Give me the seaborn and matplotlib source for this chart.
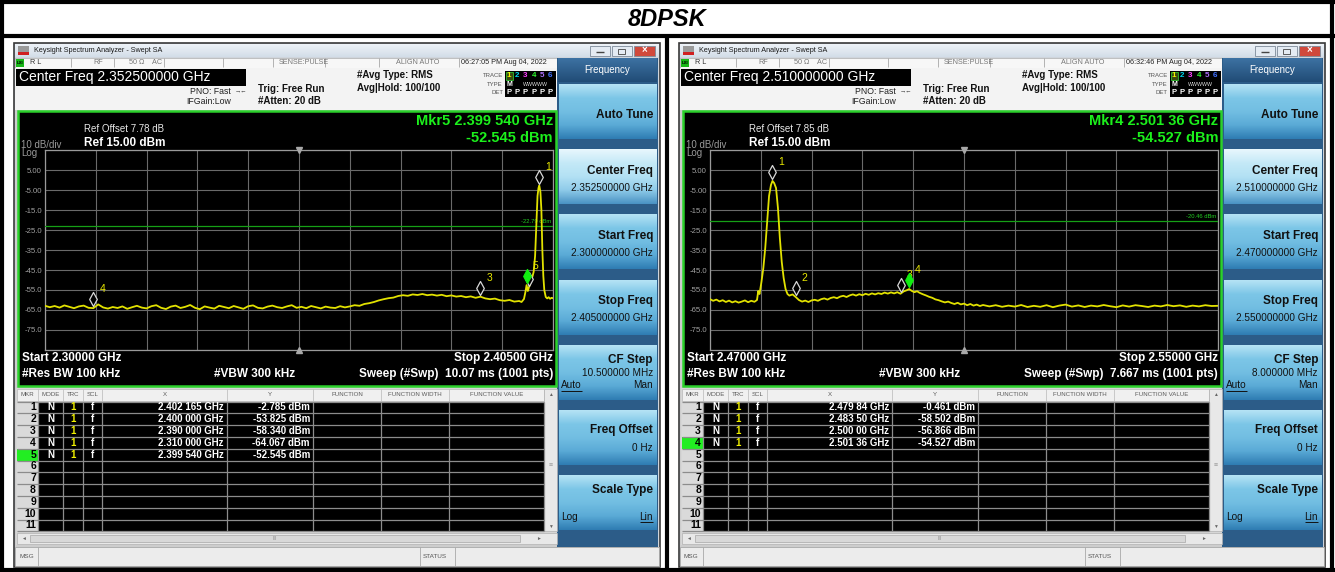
import numpy as np
import pandas as pd
import matplotlib
matplotlib.use('Agg')
import matplotlib.pyplot as plt
import seaborn as sns
from matplotlib.patches import Rectangle
from matplotlib.path import Path
from matplotlib.colors import LinearSegmentedColormap

plt.rcParams['font.family'] = ['Liberation Sans', 'DejaVu Sans']

# ------------------------------------------------------------------ data
TITLE = '8DPSK'

# left screen
left_time = '06:27:05 PM Aug 04, 2022'
left_center = '2.352500000 GHz'
left_start_soft = '2.300000000 GHz'
left_stop_soft = '2.405000000 GHz'
left_cfstep = '10.500000 MHz'
left_ref_offset = 7.78
left_start_ghz = 2.300
left_stop_ghz = 2.405
left_center_ghz = 2.3525
left_display_line = -22.79
left_sweep = '10.07 ms (1001 pts)'
left_mkr_id = [1, 2, 3, 4, 5]
left_mkr_ghz = [2.402165, 2.400000, 2.390000, 2.310000, 2.399540]
left_mkr_xlabel = ['2.402 165 GHz', '2.400 000 GHz', '2.390 000 GHz', '2.310 000 GHz', '2.399 540 GHz']
left_mkr_dbm = [-2.785, -53.825, -58.340, -64.067, -52.545]
left_mkr_label_visible = [True, False, True, True, True]
left_active = 5
left_mkr_readout = ('Mkr5 2.399 540 GHz', '-52.545 dBm')

left_trace_mhz = [
    2300, 2301, 2302, 2303, 2304, 2305, 2306, 2307, 2308, 2309,
    2310, 2311, 2312, 2313, 2314, 2315, 2316, 2317, 2318, 2319,
    2320, 2321, 2322, 2323, 2324, 2325, 2326, 2327, 2328, 2329,
    2330, 2331, 2332, 2333, 2334, 2335, 2336, 2337, 2338, 2339,
    2340, 2341, 2342, 2343, 2344, 2345, 2346, 2347, 2348, 2349,
    2350, 2351, 2352, 2353, 2354, 2355, 2356, 2357, 2358, 2359,
    2360, 2361, 2362, 2363, 2364, 2365, 2366, 2367, 2368, 2369,
    2370, 2371, 2372, 2373, 2374, 2375, 2376, 2377, 2378, 2379,
    2380, 2381, 2382, 2383, 2384, 2385, 2386, 2387, 2388, 2389,
    2390, 2391, 2392, 2393, 2394, 2395, 2396, 2397, 2398, 2398.5,
    2399.0, 2399.3, 2399.54, 2399.8, 2400.0, 2400.5, 2401.0, 2401.3, 2401.6, 2401.8,
    2402.0, 2402.165, 2402.4, 2402.6, 2402.8, 2403.0, 2403.2, 2403.5, 2403.8, 2404.1,
    2404.4, 2404.7, 2405.0]
left_trace_dbm = [
    -62.9, -63.6, -63.0, -63.8, -62.7, -63.4, -64.1, -63.2, -62.8, -63.9,
    -64.07, -62.2, -63.7, -64.3, -63.5, -64.0, -63.2, -64.4, -63.6, -62.9,
    -63.8, -64.2, -63.1, -62.6, -63.9, -64.5, -63.3, -62.8, -64.0, -63.4,
    -62.5, -63.9, -64.6, -63.2, -63.8, -64.3, -62.9, -63.5, -64.1, -63.0,
    -63.7, -64.4, -63.1, -62.7, -63.9, -64.2, -63.3, -62.8, -63.6, -64.0,
    -63.2, -62.6, -63.9, -63.4, -64.1, -63.0, -63.6, -64.2, -63.3, -63.8,
    -64.0, -63.1, -63.7, -63.2, -62.6, -62.9, -62.0, -61.6, -61.0, -60.2,
    -59.6, -59.1, -58.8, -58.0, -57.6, -57.9, -57.2, -57.5, -57.0, -57.6,
    -57.3, -57.8, -57.4, -58.1, -57.7, -58.3, -58.0, -58.6, -58.2, -58.9,
    -58.34, -59.2, -59.6, -59.3, -60.1, -60.4, -60.0, -60.8, -60.5, -61.0,
    -59.5, -56.0, -52.545, -55.5, -53.825, -50.5, -46.0, -38.0, -20.0, -8.0,
    -4.0, -2.785, -6.0, -15.0, -35.0, -48.0, -55.0, -58.5, -59.2, -58.6,
    -59.4, -58.9, -59.1]

# right screen
right_time = '06:32:46 PM Aug 04, 2022'
right_center = '2.510000000 GHz'
right_start_soft = '2.470000000 GHz'
right_stop_soft = '2.550000000 GHz'
right_cfstep = '8.000000 MHz'
right_ref_offset = 7.85
right_start_ghz = 2.470
right_stop_ghz = 2.550
right_center_ghz = 2.510
right_display_line = -20.46
right_sweep = '7.667 ms (1001 pts)'
right_mkr_id = [1, 2, 3, 4]
right_mkr_ghz = [2.47984, 2.48350, 2.50000, 2.50136]
right_mkr_xlabel = ['2.479 84 GHz', '2.483 50 GHz', '2.500 00 GHz', '2.501 36 GHz']
right_mkr_dbm = [-0.461, -58.502, -56.866, -54.527]
right_mkr_label_visible = [True, True, True, True]
right_active = 4
right_mkr_readout = ('Mkr4 2.501 36 GHz', '-54.527 dBm')

right_trace_mhz = [
    2470.0, 2470.5, 2471.0, 2471.5, 2472.0, 2472.5, 2473.0, 2473.5, 2474.0, 2474.5,
    2475.0, 2475.5, 2476.0, 2476.5, 2477.0, 2477.4, 2477.6, 2477.8, 2478.1, 2478.4,
    2478.7, 2479.0, 2479.3, 2479.6, 2479.84, 2480.1, 2480.4, 2480.7, 2481.0, 2481.3,
    2481.6, 2481.9, 2482.2, 2482.5, 2483.0, 2483.5, 2484.0, 2484.5, 2485.0, 2485.5,
    2486.0, 2486.5, 2487.0, 2487.5, 2488.0, 2488.5, 2489.0, 2489.5, 2490.0, 2490.5,
    2491.0, 2491.5, 2492.0, 2492.5, 2493.0, 2493.5, 2494.0, 2494.5, 2495.0, 2495.5,
    2496.0, 2496.5, 2497.0, 2497.5, 2498.0, 2498.5, 2499.0, 2499.5, 2500.0, 2500.5,
    2501.0, 2501.36, 2501.8, 2502.2, 2502.6, 2503.0, 2503.5, 2504.0, 2504.5, 2505.0,
    2505.5, 2506.0, 2506.5, 2507.0, 2507.5, 2508.0, 2508.5, 2509.0, 2509.5, 2510.0,
    2510.5, 2511.0, 2511.5, 2512.0, 2512.5, 2513.0, 2514.0, 2515.0, 2516.0, 2517.0,
    2518.0, 2519.0, 2520.0, 2521.0, 2522.0, 2523.0, 2524.0, 2525.0, 2526.0, 2527.0,
    2528.0, 2529.0, 2530.0, 2531.0, 2532.0, 2533.0, 2534.0, 2535.0, 2536.0, 2537.0,
    2538.0, 2539.0, 2540.0, 2541.0, 2542.0, 2543.0, 2544.0, 2545.0, 2546.0, 2547.0,
    2548.0, 2549.0, 2550.0]
right_trace_dbm = [
    -59.6, -60.4, -59.8, -60.7, -60.1, -61.0, -60.3, -61.2, -60.6, -61.3,
    -60.8, -60.2, -61.1, -60.4, -60.9, -60.0, -55.5, -57.0, -51.0, -44.0,
    -34.0, -21.0, -8.0, -2.5, -0.461, -1.5, -4.0, -14.0, -29.0, -41.0,
    -49.0, -54.5, -57.0, -57.8, -57.2, -58.502, -60.0, -60.8, -60.3, -61.0,
    -60.2, -59.9, -60.4, -59.6, -59.2, -59.8, -59.0, -58.6, -59.1, -58.3,
    -57.9, -58.5, -57.7, -57.2, -57.8, -57.1, -57.6, -56.9, -57.4, -56.7,
    -57.2, -56.6, -57.0, -56.3, -56.8, -56.2, -56.7, -56.1, -56.866, -55.7,
    -55.1, -54.527, -55.5, -56.1, -55.6, -56.4, -57.1, -57.7, -58.4, -58.9,
    -59.7, -60.1, -60.7, -61.2, -60.8, -61.5, -62.0, -61.4, -62.2, -61.8,
    -62.6, -62.0, -62.8, -62.3, -63.0, -62.5, -63.2, -62.6, -63.4, -62.8,
    -63.3, -62.5, -63.5, -62.9, -63.4, -62.6, -63.6, -62.8, -62.3, -63.3,
    -62.7, -63.5, -62.8, -63.2, -62.5, -63.1, -63.6, -62.7, -63.3, -62.6,
    -63.0, -63.5, -62.8, -63.2, -62.5, -63.1, -62.7, -63.4, -62.8, -63.2,
    -62.6, -63.0, -62.9]

table_headers = ['MKR', 'MODE', 'TRC', 'SCL', 'X', 'Y', 'FUNCTION', 'FUNCTION WIDTH', 'FUNCTION VALUE']
softkey_titles = ['Auto Tune', 'Center Freq', 'Start Freq', 'Stop Freq', 'CF Step', 'Freq Offset', 'Scale Type']
trace_digit_colors = ['#f5f500', '#00d8f0', '#ff40ff', '#30ff30', '#b070ff', '#4070ff']

# ------------------------------------------------------------------ canvas
W, H = 1335, 572
fig = plt.figure(figsize=(W / 100, H / 100), dpi=100, facecolor='white')
bg = fig.add_axes([0, 0, 1, 1])
bg.set_zorder(0)
bg.axis('off')


def R(x0, y0, x1, y1, fc, ec='none', lw=0.0, z=1):
    bg.add_patch(Rectangle((x0, y0), x1 - x0, y1 - y0, facecolor=fc,
                           edgecolor=ec, linewidth=lw, zorder=z))


def L(xs, ys, c, lw, z=4):
    bg.plot(xs, ys, color=c, lw=lw, zorder=z, solid_capstyle='butt')


def T(x, y, s, size, c='black', w='normal', ha='left', va='center', z=6, **kw):
    bg.text(x, y, s, fontsize=size, color=c, fontweight=w, ha=ha, va=va, zorder=z, **kw)


def GR(x0, y0, x1, y1, colors, z=3):
    cmap = LinearSegmentedColormap.from_list('g', colors)
    bg.imshow(np.linspace(0, 1, 64).reshape(-1, 1), extent=(x0, x1, y1, y0), cmap=cmap,
              aspect='auto', zorder=z, interpolation='bilinear')


DIAMOND = Path([(0, 2), (3.8, 9), (0, 16), (-3.8, 9), (0, 2)],
               [Path.MOVETO, Path.LINETO, Path.LINETO, Path.LINETO, Path.CLOSEPOLY])
DIAMOND_S = 531

BTN_NORMAL = ['#b5e3f5', '#7cc6e7', '#72bee2', '#5aaad6', '#2f7db3']
BTN_SEL = ['#e8f7fd', '#c4e9f7', '#b3e1f4', '#8fcbe9', '#4b93c4']


def panel(o, p):
    # window body and title bar
    R(o + 14, 43, o + 660, 567, '#cfd5dc', ec='#3a3a3a', lw=1.2, z=1)
    GR(o + 15, 44, o + 659, 57, ['#eef3f8', '#d3dde8'], z=2)
    R(o + 18, 46, o + 29, 55, '#9a9a9a', z=3)
    R(o + 18, 52, o + 29, 55, '#d02020', z=4)
    T(o + 34, 50.5, 'Keysight Spectrum Analyzer - Swept SA', 5.2, '#1a1a1a')
    for bx0, bx1, fc in [(590, 610, '#e4ebf3'), (612, 632, '#e4ebf3'), (634, 655, '#d0493c')]:
        R(o + bx0, 45.5, o + bx1, 55.5, fc, ec='#7d8a99', lw=0.6, z=3)
    L([o + 596, o + 604], [52, 52], '#444', 1.0, z=5)
    R(o + 618, 48.5, o + 625, 53.5, 'none', ec='#444', lw=0.6, z=5)
    T(o + 644.5, 50.3, '×', 7, 'white', w='bold', ha='center')

    # status row
    R(o + 15, 57.5, o + 557, 67.5, '#f7f7f7', ec='#b0b0b0', lw=0.5, z=2)
    R(o + 15.5, 58.5, o + 24, 66.5, '#18b818', z=3)
    T(o + 19.7, 62.5, 'LXI', 3.2, 'black', w='bold', ha='center')
    for sx in [71, 114, 164, 223, 273, 325, 379, 459]:
        L([o + sx, o + sx], [58, 67], '#a8a8a8', 0.6)
    T(o + 30, 62.5, 'R L', 5.2, '#333')
    T(o + 93, 62.5, 'RF', 5.2, '#777')
    T(o + 129, 62.5, '50 Ω    AC', 5.2, '#777')
    T(o + 279, 62.5, 'SENSE:PULSE', 5.2, '#777')
    T(o + 396, 62.5, 'ALIGN AUTO', 5.2, '#777')
    T(o + 461, 62.5, p['time'], 5.2, '#222')

    # info area
    R(o + 15, 67.5, o + 557, 109.5, '#f3f3f3', z=2)
    R(o + 16, 68.5, o + 246, 85.5, 'black', z=3)
    T(o + 19, 77.3, 'Center Freq ' + p['center'], 10, 'white')
    T(o + 231, 91, 'PNO: Fast', 6.3, '#222', ha='right')
    T(o + 241, 91, '→←', 4.5, '#333', ha='center')
    T(o + 231, 102, 'IFGain:Low', 6.3, '#222', ha='right')
    T(o + 258, 89, 'Trig: Free Run', 7, '#111', w='bold')
    T(o + 258, 101.5, '#Atten: 20 dB', 7, '#111', w='bold')
    T(o + 357, 75.5, '#Avg Type: RMS', 7, '#111', w='bold')
    T(o + 357, 88, 'Avg|Hold: 100/100', 7, '#111', w='bold')
    T(o + 503, 75.5, 'TRACE', 4.3, '#555', ha='right')
    T(o + 503, 84, 'TYPE', 4.3, '#555', ha='right')
    T(o + 503, 92.5, 'DET', 4.3, '#555', ha='right')
    R(o + 505, 71, o + 556, 97, 'black', z=3)
    R(o + 505.5, 71.5, o + 512.5, 79.5, '#3a4a10', ec='#30c030', lw=0.6, z=4)
    for i, c in enumerate(trace_digit_colors):
        xx = o + 509 + i * 8.2
        T(xx, 75.5, str(i + 1), 5.8, c, 'bold', ha='center')
        T(xx, 92.5, 'P', 5.5, 'white', 'bold', ha='center')
    T(o + 509, 84, 'M', 5, 'white', 'bold', ha='center')
    T(o + 535, 84, 'WWWWW', 3.8, '#ddd', ha='center')

    # lower body background
    R(o + 15, 109.5, o + 557, 547, '#cdcdcd', z=2)

    # plot frame
    R(o + 18, 110.5, o + 556, 385.5, 'black', ec='#2bd12b', lw=1.8, z=3)
    T(o + 84, 129.5, 'Ref Offset %.2f dB' % p['refoff'], 7, '#e8e8e8')
    T(o + 84, 142.5, 'Ref 15.00 dBm', 8.5, 'white', 'bold')
    T(o + 21, 145.5, '10 dB/div', 7, '#9a9a9a')
    T(o + 21, 153, 'Log', 7, '#9a9a9a')
    T(o + 553, 121, p['readout'][0], 10.5, '#1cf01c', 'bold', ha='right')
    T(o + 553, 137.5, p['readout'][1], 10.5, '#1cf01c', 'bold', ha='right')
    T(o + 22, 358, 'Start %.5f GHz' % p['start'], 8.5, 'white', 'bold')
    T(o + 553, 358, 'Stop %.5f GHz' % p['stop'], 8.5, 'white', 'bold', ha='right')
    T(o + 22, 374, '#Res BW 100 kHz', 8.5, 'white', 'bold')
    T(o + 214, 374, '#VBW 300 kHz', 8.5, 'white', 'bold')
    T(o + 553, 374, 'Sweep (#Swp)  ' + p['sweep'], 8.5, 'white', 'bold', ha='right')

    # graticule axes with trace
    ax = fig.add_axes([(o + 45) / W, 1 - 350 / H, 508 / W, 200 / H])
    ax.set_zorder(5)
    ax.set_facecolor('black')
    df = pd.DataFrame({'freq': np.array(p['mhz']) / 1000.0, 'dbm': p['dbm']})
    sns.lineplot(data=df, x='freq', y='dbm', ax=ax, color='#e2e200', linewidth=1.3,
                 estimator=None, sort=False, legend=False, zorder=4)
    ax.set_xlim(p['start'], p['stop'])
    ax.set_ylim(-85, 15)
    ax.set_xticks(np.linspace(p['start'], p['stop'], 11))
    ax.set_xticklabels([])
    yt = np.arange(-85, 16, 10)
    ax.set_yticks(yt)
    ax.set_yticklabels(['' if v in (-85, 15) else (('%.2f' % v) if abs(v) < 10 else ('%.1f' % v)) for v in yt])
    ax.tick_params(axis='both', length=0, labelsize=5.6, labelcolor='#a0a0a0', pad=2.2)
    ax.grid(True, color='#6a6a6a', linewidth=0.8)
    ax.set_axisbelow(True)
    for s in ax.spines.values():
        s.set_color('#9a9a9a')
        s.set_linewidth(0.9)
    ax.set_xlabel('')
    ax.set_ylabel('')
    ax.axhline(p['dl'], color='#16a016', lw=0.9, zorder=3)
    ax.annotate('%.2f dBm' % p['dl'], xy=(1, p['dl']), xycoords=('axes fraction', 'data'),
                xytext=(-2, 2), textcoords='offset pixels', ha='right', va='bottom',
                fontsize=4.2, color='#22cc22')
    ax.plot([p['cghz']], [15], marker='v', ms=4, color='#a8a8a8', clip_on=False, zorder=6)
    ax.plot([p['cghz']], [-85], marker='^', ms=4, color='#a8a8a8', clip_on=False, zorder=6)

    ids, fs, vs = p['mid'], p['mghz'], p['mdbm']
    act = ids.index(p['active'])
    pas = [i for i in range(len(ids)) if i != act]
    sns.scatterplot(x=[fs[i] for i in pas], y=[vs[i] for i in pas], ax=ax, marker=DIAMOND,
                    s=DIAMOND_S, color='black', edgecolor='#d8d8d8', linewidth=0.9,
                    zorder=7, legend=False, clip_on=False)
    for i in pas:
        if p['mvis'][i]:
            ax.annotate(str(ids[i]), xy=(fs[i], vs[i]), xytext=(6, 19), textcoords='offset pixels',
                        color='#e8e800', fontsize=7.5, ha='left', va='center', zorder=8,
                        annotation_clip=False)
    sns.scatterplot(x=[fs[act]], y=[vs[act]], ax=ax, marker=DIAMOND, s=DIAMOND_S,
                    color='#10ee10', edgecolor='#10ee10', linewidth=0.9, zorder=9,
                    legend=False, clip_on=False)
    ax.annotate(str(ids[act]), xy=(fs[act], vs[act]), xytext=(6, 19), textcoords='offset pixels',
                color='#e8e800', fontsize=7.5, ha='left', va='center', zorder=10,
                annotation_clip=False)

    # marker table
    cols = [17, 38, 63, 83, 102, 227, 313, 381, 449, 544]
    R(o + 16, 388, o + 557, 545, '#d6d6d6', z=2)
    R(o + 17, 389, o + 544, 401, '#f0f0f0', ec='#b8b8b8', lw=0.5, z=3)
    for i, h in enumerate(table_headers):
        T(o + (cols[i] + cols[i + 1]) / 2, 395, h, 4.4, '#5a5a5a', ha='center')
    for c in cols[1:-1]:
        L([o + c, o + c], [389, 401], '#b8b8b8', 0.5)
    top, rh = 401.5, 11.8
    R(o + cols[1], top, o + cols[-1], top + 11 * rh, 'black', z=3)
    R(o + cols[0], top, o + cols[1], top + 11 * rh, '#dadada', z=3)
    R(o + cols[0], top + act * rh, o + cols[1], top + (act + 1) * rh, '#22ee22', z=3.5)
    for r in range(12):
        L([o + cols[0], o + cols[-1]], [top + r * rh] * 2, '#8c8c8c', 0.9)
    for c in cols[1:]:
        L([o + c, o + c], [top, top + 11 * rh], '#8c8c8c', 0.9)
    for r in range(11):
        T(o + 36, top + (r + 0.5) * rh, str(r + 1), 7.5, 'black', 'bold', ha='right')
    for r in range(len(ids)):
        yc = top + (r + 0.5) * rh
        T(o + (cols[1] + cols[2]) / 2, yc, 'N', 7, 'white', 'bold', ha='center')
        T(o + (cols[2] + cols[3]) / 2, yc, '1', 7, '#f0f000', 'bold', ha='center')
        T(o + (cols[3] + cols[4]) / 2, yc, 'f', 7, 'white', 'bold', ha='center')
        T(o + cols[5] - 3, yc, p['mxl'][r], 7, 'white', 'bold', ha='right')
        T(o + cols[6] - 3, yc, '%.3f dBm' % vs[r], 7, 'white', 'bold', ha='right')
    R(o + 544, 389, o + 557, top + 11 * rh, '#e8e8e8', ec='#b0b0b0', lw=0.5, z=3)
    T(o + 550.5, 395, '▲', 3.5, '#666', ha='center')
    T(o + 550.5, top + 11 * rh - 5, '▼', 3.5, '#666', ha='center')
    T(o + 550.5, 466, '≡', 5, '#999', ha='center')
    R(o + 17, 532.5, o + 557, 544, '#e8e8e8', ec='#b0b0b0', lw=0.5, z=3)
    R(o + 30, 534.5, o + 520, 542, '#d8d8d8', ec='#a8a8a8', lw=0.5, z=4)
    T(o + 23, 538.3, '◄', 3.5, '#666', ha='center')
    T(o + 538, 538.3, '►', 3.5, '#666', ha='center')
    T(o + 275, 538.3, 'III', 3.5, '#888', ha='center')

    # message bar
    R(o + 15, 547, o + 659, 566, '#ececec', ec='#a8a8a8', lw=0.6, z=2)
    for sx in [38, 420, 455]:
        L([o + sx, o + sx], [547, 566], '#a8a8a8', 0.6)
    T(o + 19, 556.5, 'MSG', 4.6, '#555')
    T(o + 423, 556.5, 'STATUS', 4.6, '#555')

    # soft keys
    R(o + 557, 57.5, o + 658, 547, '#2c5c88', z=2)
    GR(o + 558, 58, o + 657, 82, ['#3d72a3', '#214c76'], z=3)
    T(o + 607.5, 70, 'Frequency', 7, 'white', ha='center')
    tops = [84, 149, 214, 280, 345, 410, 475]
    for i, tp in enumerate(tops):
        GR(o + 558.5, tp, o + 656.5, tp + 55, BTN_SEL if i == 1 else BTN_NORMAL, z=3)
    RX = o + 653
    T(RX, 115, softkey_titles[0], 8.5, '#111', 'bold', ha='right')
    T(RX, 171, softkey_titles[1], 8.5, '#111', 'bold', ha='right')
    T(RX, 188, p['center'], 7.2, '#111', ha='right')
    T(RX, 236, softkey_titles[2], 8.5, '#111', 'bold', ha='right')
    T(RX, 253, p['start_soft'], 7.2, '#111', ha='right')
    T(RX, 301, softkey_titles[3], 8.5, '#111', 'bold', ha='right')
    T(RX, 318, p['stop_soft'], 7.2, '#111', ha='right')
    T(RX, 360, softkey_titles[4], 8.5, '#111', 'bold', ha='right')
    T(RX, 373.5, p['cfstep'], 7.2, '#111', ha='right')
    T(o + 561, 385, 'Auto', 7.2, '#111')
    L([o + 561, o + 581.5], [390.5, 390.5], '#111', 0.7, z=7)
    T(RX, 385, 'Man', 7.2, '#111', ha='right')
    T(RX, 430, softkey_titles[5], 8.5, '#111', 'bold', ha='right')
    T(RX, 448, '0 Hz', 7.2, '#111', ha='right')
    T(RX, 490, softkey_titles[6], 8.5, '#111', 'bold', ha='right')
    T(o + 561, 517, 'Log', 7.2, '#111')
    T(RX, 517, 'Lin', 7.2, '#111', ha='right')
    L([o + 639.7, o + 653], [522, 522], '#111', 0.7, z=7)


left = dict(time=left_time, center=left_center, start_soft=left_start_soft, stop_soft=left_stop_soft,
            cfstep=left_cfstep, refoff=left_ref_offset, start=left_start_ghz, stop=left_stop_ghz,
            cghz=left_center_ghz, dl=left_display_line, sweep=left_sweep, mid=left_mkr_id,
            mghz=left_mkr_ghz, mxl=left_mkr_xlabel, mdbm=left_mkr_dbm, mvis=left_mkr_label_visible,
            active=left_active, readout=left_mkr_readout, mhz=left_trace_mhz, dbm=left_trace_dbm)
right = dict(time=right_time, center=right_center, start_soft=right_start_soft, stop_soft=right_stop_soft,
             cfstep=right_cfstep, refoff=right_ref_offset, start=right_start_ghz, stop=right_stop_ghz,
             cghz=right_center_ghz, dl=right_display_line, sweep=right_sweep, mid=right_mkr_id,
             mghz=right_mkr_ghz, mxl=right_mkr_xlabel, mdbm=right_mkr_dbm, mvis=right_mkr_label_visible,
             active=right_active, readout=right_mkr_readout, mhz=right_trace_mhz, dbm=right_trace_dbm)

panel(0, left)
panel(665, right)

# outer frame and title
L([0, W], [2, 2], 'black', 3, z=20)
L([0, W], [35.5, 35.5], 'black', 3, z=20)
L([2, 2], [0, H], 'black', 3, z=20)
L([1332, 1332], [0, H], 'black', 3, z=20)
L([0, W], [570, 570], 'black', 3, z=20)
L([667, 667], [35, H], 'black', 3, z=20)
T(667, 19, TITLE, 17, 'black', w='bold', ha='center', style='italic', z=21)

bg.set_xlim(0, W)
bg.set_ylim(H, 0)
fig.savefig('out.png', dpi=100, facecolor='white')
